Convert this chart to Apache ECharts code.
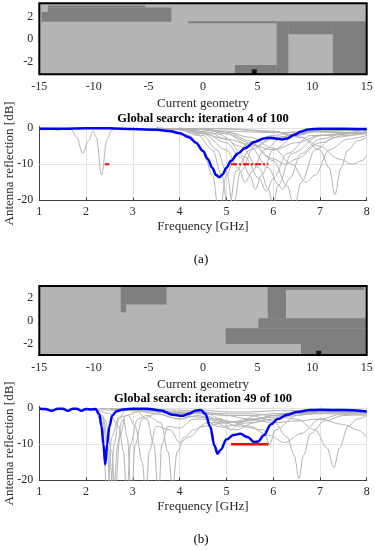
<!DOCTYPE html>
<html><head><meta charset="utf-8">
<script src="https://cdn.jsdelivr.net/npm/echarts@6/dist/echarts.min.js"></script>
<style>html,body{margin:0;padding:0;background:#fff}#c{width:375px;height:550px}</style>
</head><body><div id="c"></div><script>
// ---------- DATA ----------
const geomXTicks = [-15, -10, -5, 0, 5, 10, 15];
const geomYTicks = [-2, 0, 2];
const freqTicks = [1, 2, 3, 4, 5, 6, 7, 8];
const s11YTicks = [-20, -10, 0];
const s11GridLevels = [-10, 0];

// dark cells of the geometry, [x0, x1, y0, y1]
const geomADark = [
  [-14.2, -5.3, 2.8, 2.97],
  [-14.8, -2.9, 1.55, 2.4],
  [-14.2, -2.9, 2.4, 2.8],
  [-1.35, 6.75, 1.42, 1.58],
  [6.75, 7.82, -3.5, 1.58],
  [7.82, 11.9, 0.44, 1.58],
  [11.9, 15.5, -3.5, 1.58],
  [2.93, 6.75, -3.5, -2.25]
];
const geomAFeed = [[4.7, -2.85]];
const geomBDark = [
  [-7.54, -3.33, 1.41, 2.94],
  [-7.54, -7.05, 0.72, 1.41],
  [5.93, 7.6, 0.2, 2.94],
  [7.6, 14.76, 2.65, 2.94],
  [5.07, 15.5, -0.66, 0.2],
  [2.08, 15.5, -2.02, -0.66],
  [8.98, 15.5, -3.5, -2.02]
];
const geomBFeed = [[10.6, -2.82]];

// target bands: [fStart, fEnd, level dB]
const targetsA = [[2.4, 2.5, -10], [5.1, 5.9, -10]];
const targetsB = [[5.1, 5.9, -10]];

// current (blue) responses
const blueA = [[1,-0.1],[1.5,-0.1],[2,0],[2.5,0],[3,-0.2],[3.5,-0.4],[3.8,-0.8],[4.0,-1.4],[4.2,-2.5],[4.35,-4],[4.5,-6.3],[4.6,-8.5],[4.7,-11],[4.78,-13],[4.85,-13.6],[4.92,-12.8],[5.0,-11],[5.1,-9],[5.25,-7],[5.4,-5.5],[5.6,-3.8],[5.8,-2.8],[5.95,-2.6],[6.1,-2.9],[6.2,-3.1],[6.3,-2.8],[6.45,-1.8],[6.6,-0.9],[6.75,-0.3],[7.0,-0.1],[7.5,-0.1],[8,-0.2]];
const blueB = [[1,-0.1],[1.13,-0.2],[1.26,-0.7],[1.4,-0.1],[1.5,-0.1],[1.61,-0.7],[1.72,-0.1],[1.8,-0.1],[1.9,-0.7],[2.0,-0.2],[2.1,-0.3],[2.2,-0.2],[2.28,-1.5],[2.33,-5],[2.37,-10],[2.41,-15.6],[2.45,-10],[2.5,-5],[2.56,-2],[2.65,-0.8],[2.8,-0.3],[3.0,-0.1],[3.3,-0.1],[3.6,-0.6],[3.85,-1.8],[4.05,-2.1],[4.2,-1.5],[4.35,-0.6],[4.45,-0.5],[4.55,-1.5],[4.65,-5],[4.75,-10.5],[4.81,-12.6],[4.88,-11.5],[5.0,-8.7],[5.15,-7.4],[5.3,-7.1],[5.45,-8],[5.6,-9.4],[5.68,-9.2],[5.8,-7.5],[5.95,-4.5],[6.1,-3],[6.3,-1.8],[6.5,-1],[6.8,-0.5],[7.0,-0.4],[7.5,-0.5],[8,-0.9]];

// previous (gray) responses, panel (a)
const grayA1 = [[1,-0.1],[1.3,-0.3],[1.4,-0.6],[1.5,-0.2],[1.68,-0.3],[1.8,-2.5],[1.93,-7],[2.05,-3.5],[2.15,-0.8],[2.22,-2.5],[2.33,-13],[2.45,-3],[2.55,-0.5],[2.7,-0.1],[3.5,-0.1],[4,-0.4],[4.5,-1.5],[5,-3],[5.5,-4.5],[6,-6],[6.5,-4],[7,-2],[8,-1]];
const grayA2 = [[1,0],[3,-0.1],[3.8,-0.5],[4.2,-2],[4.5,-6],[4.7,-13],[4.85,-24],[5.0,-13],[5.2,-7],[5.5,-4],[6,-2],[6.5,-1],[7,-0.5],[8,-0.3]];
const grayA3 = [[1,0],[3.5,-0.1],[4,-0.4],[4.4,-2],[4.7,-6],[4.9,-13],[5.05,-24],[5.2,-12],[5.5,-6],[6,-3],[6.5,-1.5],[7,-0.8],[8,-0.5]];
const grayA4 = [[3.5,0],[4,-0.2],[4.5,-2],[4.8,-6],[5.0,-12],[5.15,-22],[5.3,-12],[5.6,-5],[6,-2.5],[7,-0.8],[8,-0.5]];
const grayA5 = [[3.5,0],[4,-0.2],[4.5,-1.5],[5,-6],[5.25,-11],[5.4,-15],[5.55,-12],[5.8,-6],[6.2,-2.5],[7,-0.8],[8,-0.3]];
const grayA6 = [[3.5,0],[4,-0.1],[4.5,-1.2],[5,-4],[5.3,-8],[5.5,-13],[5.62,-17],[5.75,-13],[6,-6],[6.5,-2],[7,-0.5],[8,-0.2]];
const grayA7 = [[3.5,0],[4,-0.1],[4.6,-1],[5,-3],[5.4,-8],[5.7,-14],[5.85,-17.5],[6.0,-14],[6.3,-7],[6.8,-2],[8,-0.5]];
const grayA8 = [[3.5,0],[4,-0.1],[4.8,-1.5],[5.3,-5],[5.7,-11],[5.9,-17],[6.0,-22],[6.1,-16],[6.4,-7],[7,-2],[8,-1]];
const grayA9 = [[4,0],[4.5,-0.3],[5,-1.5],[5.5,-5],[5.9,-11],[6.1,-15.5],[6.2,-17],[6.35,-14],[6.6,-7],[7,-3],[7.5,-1.5],[8,-1]];
const grayA10 = [[4,0],[4.5,-0.2],[5,-1],[5.5,-3.5],[6,-9],[6.3,-16],[6.45,-22],[6.6,-15],[6.9,-6],[7.3,-2.5],[8,-1.2]];
const grayA11 = [[4,0],[4.5,-0.3],[5,-1.5],[5.5,-4],[6,-8.5],[6.25,-10],[6.5,-8.5],[7,-4],[7.5,-2],[8,-1.5]];
const grayA12 = [[4,0],[4.5,-0.2],[5,-1],[5.5,-2.5],[6,-5.5],[6.4,-10],[6.7,-15],[6.9,-13],[7.2,-6],[7.6,-3],[8,-2]];
const grayA13 = [[4.5,0],[5,-0.2],[6,-1],[6.6,-2.5],[7,-6],[7.2,-11],[7.32,-18.4],[7.45,-11],[7.6,-6],[7.8,-3.5],[8,-2.5]];
const grayA14 = [[4.5,0],[5,-0.1],[6,-0.8],[6.6,-2.5],[7,-5],[7.4,-8.5],[7.7,-10],[7.9,-9],[8,-7.5]];
const grayA15 = [[3.5,0],[4,-0.1],[5,-0.8],[6,-1.2],[6.8,-1],[7.5,-1.2],[8,-1.5]];
const grayA = [grayA1, grayA2, grayA3, grayA4, grayA5, grayA6, grayA7, grayA8, grayA9, grayA10, grayA11, grayA12, grayA13, grayA14, grayA15];

// previous (gray) responses, panel (b)
const grayB1 = [[1,-0.1],[1.26,-0.6],[1.4,-0.1],[1.61,-0.6],[1.75,-0.1],[1.9,-0.6],[2.05,-0.2],[2.2,-0.1],[2.35,-3],[2.45,-10],[2.52,-25],[2.6,-10],[2.7,-3],[2.85,-0.5],[3.2,-0.3],[3.6,-1],[4,-2],[4.4,-1],[4.8,-3],[5.2,-4],[5.6,-3],[6,-2],[6.5,-1],[8,-0.8]];
const grayB2 = [[2.2,0],[2.35,-2],[2.5,-12],[2.58,-25],[2.68,-10],[2.75,-4],[2.8,-3],[2.88,-8],[2.97,-25],[3.05,-10],[3.2,-3],[3.5,-1.5],[4,-3],[4.4,-1],[4.8,-5],[5.2,-6],[5.6,-4],[6,-2],[7,-1],[8,-1.5]];
const grayB3 = [[2.2,-0.2],[2.4,-3],[2.55,-12],[2.62,-25],[2.72,-8],[2.85,-2],[3.1,-1],[3.3,-3],[3.45,-10],[3.55,-25],[3.62,-10],[3.75,-5],[4.0,-5.5],[4.3,-3],[4.6,-3],[5,-5],[5.5,-4],[6,-3],[6.5,-1.5],[8,-1]];
const grayB4 = [[2.2,0],[2.5,-1.5],[2.7,-5],[2.8,-12],[2.87,-25],[2.95,-10],[3.1,-3],[3.3,-2],[3.6,-4],[3.75,-12],[3.85,-22],[3.95,-12],[4.1,-8],[4.3,-6],[4.6,-4],[5,-4],[5.5,-3.5],[6,-2],[7,-1],[8,-1]];
const grayB5 = [[2.2,0],[2.35,-4],[2.45,-25],[2.55,-8],[2.7,-2.5],[2.9,-2],[3.05,-5],[3.2,-15],[3.28,-25],[3.35,-12],[3.5,-5],[3.8,-6],[4.0,-9.5],[4.2,-8],[4.5,-5],[5,-4],[5.5,-3],[6,-2.5],[7,-1.5],[8,-2]];
const grayB6 = [[2.2,0],[2.5,-0.5],[3,-0.5],[3.5,-1.5],[4,-3],[4.4,-2],[4.8,-3.5],[5.3,-5],[5.8,-6],[5.92,-10],[6.05,-6],[6.5,-2],[7,-0.8],[8,-0.6]];
const grayB7 = [[2.5,-0.2],[3.5,-1],[4,-2],[4.5,-2.5],[5,-3.5],[5.5,-5],[5.9,-7.5],[6.25,-9.5],[6.6,-7],[7,-3],[7.5,-1.5],[8,-1]];
const grayB8 = [[2.5,-0.1],[3.5,-0.5],[4,-1.5],[4.5,-1.5],[5,-2],[5.5,-2],[6,-3.5],[6.3,-8],[6.45,-13],[6.55,-19.5],[6.65,-13],[6.8,-7],[7.1,-3.5],[7.5,-2],[8,-1.5]];
const grayB9 = [[3,-0.1],[4,-1],[4.5,-1.2],[5,-1.5],[5.5,-1.5],[6,-2],[6.5,-3],[6.9,-6],[7.15,-11],[7.3,-16.5],[7.42,-11],[7.6,-5],[7.8,-3],[8,-2]];
const grayB10 = [[3,0],[4,-0.5],[4.5,-1],[5,-2],[5.5,-3],[6,-4],[6.5,-3.5],[7,-3],[7.5,-4.5],[7.8,-6],[8,-8]];
const grayB11 = [[2.3,0],[3,-0.3],[4,-1.5],[4.5,-0.5],[5,-1],[5.5,-1],[6,-0.7],[7,-0.5],[8,-0.8]];
const grayB12 = [[3,-0.2],[4,-1.2],[4.5,-1],[4.9,-3],[5.1,-6],[5.3,-4],[5.6,-2],[6,-1.5],[7,-1],[8,-1.2]];
const grayB = [grayB1, grayB2, grayB3, grayB4, grayB5, grayB6, grayB7, grayB8, grayB9, grayB10, grayB11, grayB12];

// ---------- CHART ----------
const FONT = 'Liberation Serif';
const TXT = '#262626';
const chart = echarts.init(document.getElementById('c'), null, {renderer: 'canvas'});

const gridBase = {outerBoundsMode: 'none', containLabel: false};
const grids = [
  Object.assign({left: 39.3, top: 3.3, width: 327.4, height: 71, show: true, backgroundColor: '#b4b4b4', borderWidth: 0}, gridBase),
  Object.assign({left: 39.3, top: 126.5, width: 327.4, height: 73.8}, gridBase),
  Object.assign({left: 39.3, top: 286, width: 327.4, height: 69, show: true, backgroundColor: '#b4b4b4', borderWidth: 0}, gridBase),
  Object.assign({left: 39.3, top: 406.5, width: 327.4, height: 73.8}, gridBase)
];

function geomX(i) {
  return {gridIndex: i, type: 'value', min: -15, max: 15, interval: 5,
    name: 'Current geometry', nameLocation: 'middle', nameGap: 23, nameMoveOverlap: false,
    nameTextStyle: {fontFamily: FONT, fontSize: 13, color: TXT},
    axisLine: {show: false}, axisTick: {show: false}, splitLine: {show: false},
    axisLabel: {fontFamily: FONT, fontSize: 12, color: TXT, margin: 7, showMinLabel: true, showMaxLabel: true}};
}
function geomY(i, lo, hi) {
  return {gridIndex: i, type: 'value', min: lo, max: hi,
    axisLine: {show: false}, axisTick: {show: false}, splitLine: {show: false},
    axisLabel: {fontFamily: FONT, fontSize: 12, color: TXT, margin: 6, customValues: geomYTicks,
      formatter: v => (geomYTicks.indexOf(v) >= 0 ? String(v) : '')}};
}
function freqX(i) {
  return {gridIndex: i, type: 'value', min: 1, max: 8, interval: 1,
    name: 'Frequency [GHz]', nameLocation: 'middle', nameGap: 20, nameMoveOverlap: false,
    nameTextStyle: {fontFamily: FONT, fontSize: 13, color: TXT},
    axisLine: {show: true, onZero: false, lineStyle: {color: '#404040', width: 1}},
    axisTick: {show: true, inside: true, length: 3, lineStyle: {color: '#404040'}},
    splitLine: {show: true, lineStyle: {color: '#e3e3e3', width: 1}},
    axisLabel: {fontFamily: FONT, fontSize: 12, color: TXT, margin: 6, showMinLabel: true, showMaxLabel: true}};
}
function s11Y(i) {
  return {gridIndex: i, type: 'value', min: -20, max: 0.5,
    name: 'Antenna reflection [dB]', nameLocation: 'middle', nameGap: 23, nameRotate: 90, nameMoveOverlap: false,
    nameTextStyle: {fontFamily: FONT, fontSize: 13, color: TXT},
    axisLine: {show: true, lineStyle: {color: '#404040', width: 1}},
    axisTick: {show: true, inside: true, length: 3, customValues: s11YTicks, lineStyle: {color: '#404040'}},
    splitLine: {show: false},
    axisLabel: {fontFamily: FONT, fontSize: 12, color: TXT, margin: 6, customValues: s11YTicks,
      formatter: v => (s11YTicks.indexOf(v) >= 0 ? String(v) : '')}};
}

function rectItem(params, api) {
  const cs = params.coordSys;
  const p0 = api.coord([api.value(0), api.value(3)]);
  const p1 = api.coord([api.value(1), api.value(2)]);
  const x0 = Math.max(cs.x, p0[0]), x1 = Math.min(cs.x + cs.width, p1[0]);
  const y0 = Math.max(cs.y, p0[1]), y1 = Math.min(cs.y + cs.height, p1[1]);
  return {type: 'rect', shape: {x: x0, y: y0, width: x1 - x0, height: y1 - y0},
    style: {fill: '#7f7f7f'}};
}
function frameItem(params) {
  const cs = params.coordSys;
  return {type: 'rect', shape: {x: cs.x, y: cs.y, width: cs.width, height: cs.height},
    style: {fill: 'none', stroke: '#000', lineWidth: 2}};
}
function hGridItem(params, api) {
  const cs = params.coordSys;
  const p = api.coord([1, api.value(0)]);
  const y = Math.round(p[1]) + 0.5;
  return {type: 'line', shape: {x1: cs.x, y1: y, x2: cs.x + cs.width, y2: y},
    style: {stroke: '#e3e3e3', lineWidth: 1}};
}
function targetItem(dashed) {
  return function (params, api) {
    const a = api.coord([api.value(0), api.value(2)]);
    const b = api.coord([api.value(1), api.value(2)]);
    return {type: 'line', shape: {x1: a[0], y1: a[1], x2: b[0], y2: b[1]},
      style: {stroke: '#ff0000', lineWidth: dashed ? 2 : 2.5,
        lineDash: dashed ? [6, 2, 2, 2] : null}};
  };
}

const series = [];
function addGeom(idx, dark, feed) {
  series.push({type: 'custom', xAxisIndex: idx, yAxisIndex: idx, renderItem: rectItem,
    data: dark, silent: true, z: 2});
  series.push({type: 'scatter', xAxisIndex: idx, yAxisIndex: idx, data: feed, symbol: 'rect',
    symbolSize: 5, itemStyle: {color: '#000'}, silent: true, z: 4});
  series.push({type: 'custom', xAxisIndex: idx, yAxisIndex: idx, renderItem: frameItem,
    data: [[0, 0]], silent: true, z: 5});
}
function addS11(idx, grays, blue, targets, dashed) {
  series.push({type: 'custom', xAxisIndex: idx, yAxisIndex: idx, renderItem: hGridItem,
    data: s11GridLevels.map(v => [v]), silent: true, z: 1});
  grays.forEach(g => {
    series.push({type: 'line', xAxisIndex: idx, yAxisIndex: idx, data: g, showSymbol: false,
      smooth: 0.35, smoothMonotone: 'x', clip: true, silent: true, z: 2,
      color: '#b3b3b3', lineStyle: {color: '#b3b3b3', width: 1}});
  });
  series.push({type: 'custom', xAxisIndex: idx, yAxisIndex: idx, renderItem: targetItem(dashed),
    data: targets, silent: true, z: 6});
  series.push({type: 'line', xAxisIndex: idx, yAxisIndex: idx, data: blue, showSymbol: false,
    smooth: 0.35, smoothMonotone: 'x', silent: true, z: 4, color: '#0000ff',
    lineStyle: {color: '#0000ff', width: 2.5}});
}
addGeom(0, geomADark, geomAFeed);
addS11(1, grayA, blueA, targetsA, true);
addGeom(2, geomBDark, geomBFeed);
addS11(3, grayB, blueB, targetsB, false);

const titleStyle = {fontFamily: FONT, fontSize: 12.5, fontWeight: 'bold', fill: '#000', textAlign: 'center', textVerticalAlign: 'middle'};
const capStyle = {fontFamily: FONT, fontSize: 13, fill: '#000', textAlign: 'center', textVerticalAlign: 'middle'};

chart.setOption({
  animation: false,
  backgroundColor: '#fff',
  grid: grids,
  xAxis: [geomX(0), freqX(1), geomX(2), freqX(3)],
  yAxis: [geomY(0, -3.07, 3.16), s11Y(1), geomY(2, -2.97, 3.0), s11Y(3)],
  series: series,
  graphic: [
    {type: 'text', x: 203, y: 118.3, style: Object.assign({text: 'Global search: iteration 4 of 100'}, titleStyle)},
    {type: 'text', x: 203, y: 399, style: Object.assign({text: 'Global search: iteration 49 of 100'}, titleStyle)},
    {type: 'text', x: 201, y: 260, style: Object.assign({text: '(a)'}, capStyle)},
    {type: 'text', x: 201, y: 540, style: Object.assign({text: '(b)'}, capStyle)}
  ]
});
</script></body></html>
